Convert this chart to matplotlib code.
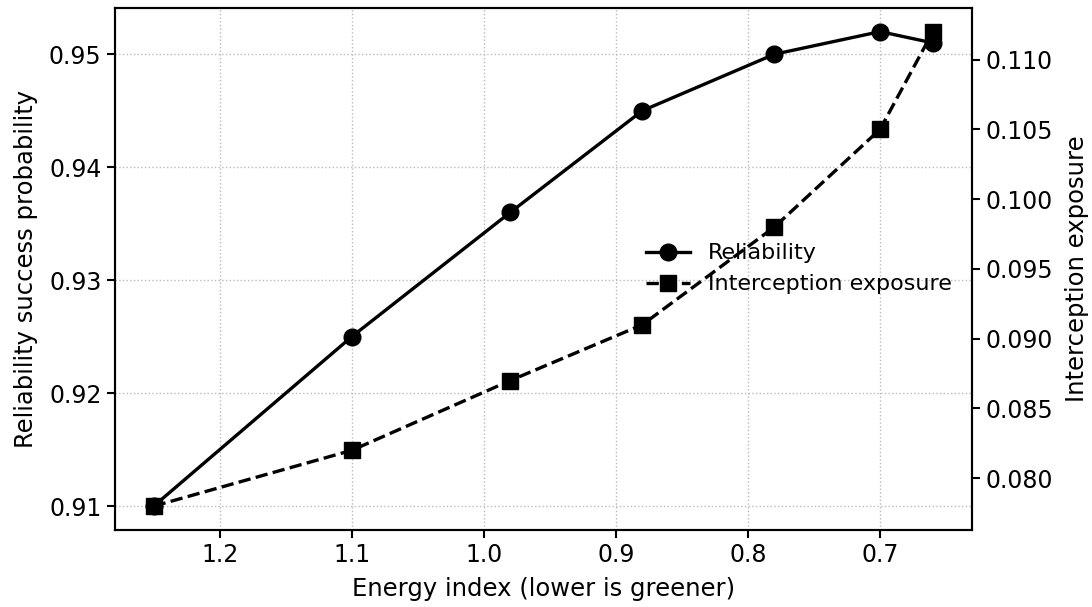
import matplotlib
matplotlib.use("Agg")
import matplotlib.pyplot as plt

energy = [1.25, 1.10, 0.98, 0.88, 0.78, 0.70, 0.66]
reliability = [0.910, 0.925, 0.936, 0.945, 0.950, 0.952, 0.951]
interception = [0.078, 0.082, 0.087, 0.091, 0.098, 0.105, 0.112]

plt.rcParams['font.size'] = 17
plt.rcParams['axes.labelsize'] = 17.5
plt.rcParams['legend.fontsize'] = 16

fig, ax1 = plt.subplots(figsize=(10.92, 6.07), dpi=100)
fig.subplots_adjust(left=0.105, right=0.890, top=0.987, bottom=0.127)

l1, = ax1.plot(energy, reliability, color='black', marker='o', markersize=12,
               linewidth=2.4, label='Reliability')
ax1.set_xlabel('Energy index (lower is greener)', labelpad=7)
ax1.set_ylabel('Reliability success probability', labelpad=8)
ax1.invert_xaxis()
ax1.grid(True, linestyle=':', color='#bbbbbb', linewidth=1)

ax2 = ax1.twinx()
l2, = ax2.plot(energy, interception, color='black', marker='s', markersize=12,
               linewidth=2.4, linestyle='--', label='Interception exposure')
ax2.set_ylabel('Interception exposure', labelpad=9)

ax1.legend(handles=[l1, l2], loc='center right', frameon=False)

for a in (ax1, ax2):
    for s in a.spines.values():
        s.set_linewidth(1.5)
    a.tick_params(width=1.5, length=6)

fig.savefig('out.png', dpi=100)
